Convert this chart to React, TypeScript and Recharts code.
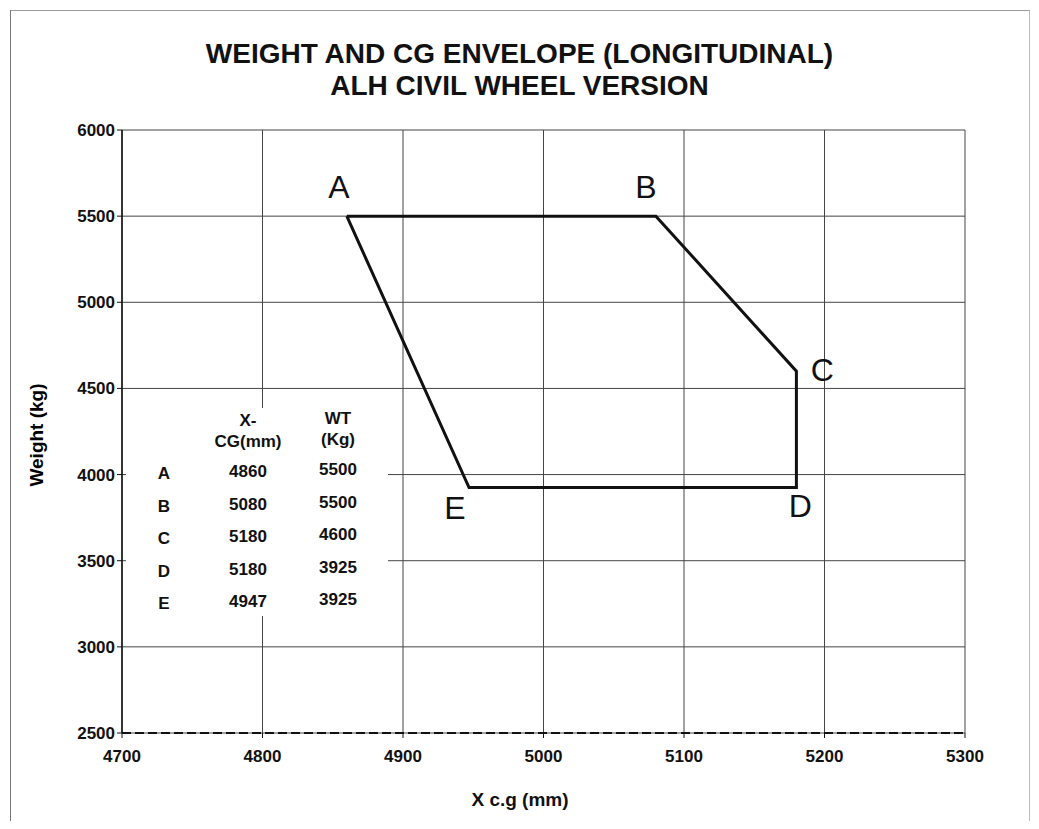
import React from "react";
import { ComposedChart, Line, XAxis, YAxis, CartesianGrid, LabelList } from "recharts";

const pointNames = ["A", "B", "C", "D", "E"];
const xcg = [4860, 5080, 5180, 5180, 4947];
const weights = [5500, 5500, 4600, 3925, 3925];
const xTicks = [4700, 4800, 4900, 5000, 5100, 5200, 5300];
const yTicks = [2500, 3000, 3500, 4000, 4500, 5000, 5500, 6000];

const data = [...pointNames, pointNames[0]].map((n, i) => ({
  name: i < pointNames.length ? n : "",
  x: xcg[i % pointNames.length],
  wt: weights[i % pointNames.length],
}));

const labelOffsets: Record<string, [number, number]> = {
  A: [-8, -18],
  B: [-10, -18],
  C: [26, 10],
  D: [4, 30],
  E: [-14, 32],
};

const PointLabel = (props: any) => {
  const { x, y, value } = props;
  if (!value) return null;
  const off = labelOffsets[value] || [0, 0];
  return (
    <text x={x + off[0]} y={y + off[1]} textAnchor="middle" fontSize={32} fontFamily="Liberation Sans, Arial, sans-serif" fill="#111">
      {value}
    </text>
  );
};

const font = "Liberation Sans, Arial, sans-serif";

export default function App() {
  return (
    <div style={{ position: "relative", width: 1023, height: 813, fontFamily: font }}>
      <div style={{ position: "absolute", left: 2, top: 2, width: 1018, height: 830, borderLeft: "1px solid #777", borderTop: "1px solid #999", borderRight: "1px solid #bbb" }} />
      <div style={{ position: "absolute", left: 0, top: 30, width: 1023, textAlign: "center", fontWeight: "bold", fontSize: 28, lineHeight: "32px", color: "#111" }}>
        <div>WEIGHT AND CG ENVELOPE (LONGITUDINAL)</div>
        <div>ALH CIVIL WHEEL VERSION</div>
      </div>
      <ComposedChart
        width={1023}
        height={813}
        data={data}
        margin={{ top: 122, right: 66, bottom: 48, left: 54 }}
        style={{ position: "absolute", left: 0, top: 0 }}
      >
        <CartesianGrid stroke="#444" strokeWidth={1} />
        <XAxis
          type="number"
          dataKey="x"
          domain={[4700, 5300]}
          ticks={xTicks}
          height={40}
          axisLine={{ stroke: "#111", strokeWidth: 2, strokeDasharray: "9 4" }}
          tickLine={{ stroke: "#111" }}
          tickSize={5}
          tick={{ fill: "#111", fontSize: 17, fontWeight: "bold", fontFamily: font }}
          tickMargin={12}
        />
        <YAxis
          type="number"
          domain={[2500, 6000]}
          ticks={yTicks}
          width={60}
          axisLine={{ stroke: "#111", strokeWidth: 1.5 }}
          tickLine={{ stroke: "#111" }}
          tickSize={5}
          tickMargin={2}
          tick={{ fill: "#111", fontSize: 17, fontWeight: "bold", fontFamily: font }}
        />
        <Line
          type="linear"
          dataKey="wt"
          stroke="#111"
          strokeWidth={3}
          dot={false}
          isAnimationActive={false}
        >
          <LabelList dataKey="name" content={PointLabel} />
        </Line>
      </ComposedChart>
      <div style={{ position: "absolute", left: 29, top: 427, width: 0, height: 0 }}>
        <div style={{ position: "absolute", left: 0, top: 0, transform: "translate(-50%, -50%) rotate(-90deg)", whiteSpace: "nowrap", fontWeight: "bold", fontSize: 19 }}>
          Weight (kg)
        </div>
      </div>
      <div style={{ position: "absolute", left: 0, top: 781, width: 1024, textAlign: "center", fontWeight: "bold", fontSize: 19, color: "#111" }}>
        X c.g (mm)
      </div>
      <div style={{ position: "absolute", left: 118, top: 400, width: 262, height: 208, background: "#fff", fontWeight: "bold", fontSize: 17, color: "#111" }}>
        <div style={{ position: "absolute", left: 82, top: 2, width: 80, textAlign: "center", lineHeight: "21px" }}>X-<br />CG(mm)</div>
        <div style={{ position: "absolute", left: 182, top: 0, width: 60, textAlign: "center", lineHeight: "21px" }}>WT<br />(Kg)</div>
        {pointNames.map((n, i) => (
          <React.Fragment key={n}>
            <div style={{ position: "absolute", left: 28, top: 56 + i * 32.5, width: 20, textAlign: "center" }}>{n}</div>
            <div style={{ position: "absolute", left: 92, top: 54 + i * 32.5, width: 60, textAlign: "center" }}>{xcg[i]}</div>
            <div style={{ position: "absolute", left: 182, top: 52 + i * 32.5, width: 60, textAlign: "center" }}>{weights[i]}</div>
          </React.Fragment>
        ))}
      </div>
    </div>
  );
}
